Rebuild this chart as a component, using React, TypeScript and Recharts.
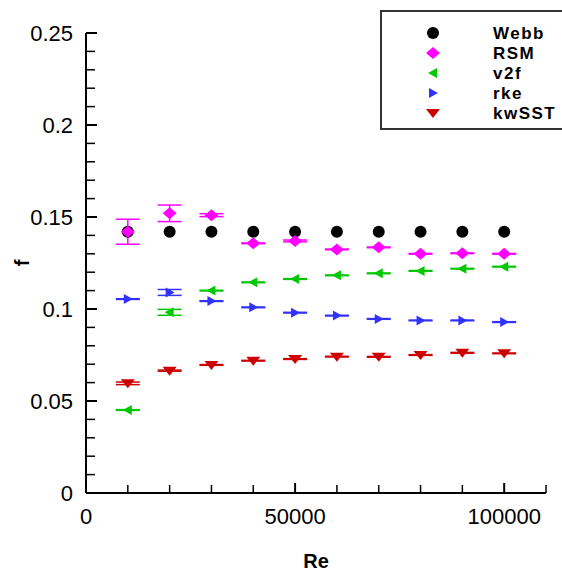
import { ScatterChart, Scatter, XAxis, YAxis, ErrorBar, Label } from "recharts";

// Reynolds numbers (x values)
const reValues = [10000, 20000, 30000, 40000, 50000, 60000, 70000, 80000, 90000, 100000];

// friction factor per model
const webbF = [0.142, 0.142, 0.142, 0.142, 0.142, 0.142, 0.142, 0.142, 0.142, 0.142];
const rsmF = [0.142, 0.152, 0.151, 0.1357, 0.137, 0.1324, 0.1335, 0.13, 0.1303, 0.13];
const rsmErr = [0.0068, 0.0045, 0.0008, 0.0002, 0.0005, 0.0002, 0.0002, 0.0002, 0.0002, 0.0002];
const v2fF = [0.0451, 0.0982, 0.11, 0.1145, 0.1163, 0.1183, 0.1194, 0.1207, 0.1219, 0.123];
const v2fErr = [0.0002, 0.0016, 0.0002, 0.0002, 0.0002, 0.0002, 0.0002, 0.0002, 0.0002, 0.0002];
const rkeF = [0.1054, 0.109, 0.1043, 0.1009, 0.098, 0.0964, 0.0946, 0.0938, 0.0938, 0.0929];
const rkeErr = [0.0002, 0.0016, 0.0002, 0.0002, 0.0002, 0.0002, 0.0002, 0.0002, 0.0002, 0.0002];
const kwsstF = [0.0596, 0.0665, 0.0696, 0.0719, 0.0728, 0.0741, 0.074, 0.075, 0.0762, 0.0759];
const kwsstErr = [0.0007, 0.0003, 0.0002, 0.0002, 0.0002, 0.0002, 0.0002, 0.0002, 0.0002, 0.0002];

const xTicks = [0, 10000, 20000, 30000, 40000, 50000, 60000, 70000, 80000, 90000, 100000, 110000];
const xLabelled = [0, 50000, 100000];
const yTicks = [0, 0.01, 0.02, 0.03, 0.04, 0.05, 0.06, 0.07, 0.08, 0.09, 0.1, 0.11, 0.12, 0.13, 0.14, 0.15, 0.16, 0.17, 0.18, 0.19, 0.2, 0.21, 0.22, 0.23, 0.24, 0.25];
const yLabels: Record<string, string> = { "0": "0", "0.05": "0.05", "0.1": "0.1", "0.15": "0.15", "0.2": "0.2", "0.25": "0.25" };

const FONT = "'Liberation Sans', Arial, Helvetica, sans-serif";

const toPoints = (ys: number[], errs?: number[]) =>
  reValues.map((x, i) => ({ x, y: ys[i], err: errs ? errs[i] : 0 }));

type MarkerKind = "circle" | "diamond" | "left" | "right" | "down";

const Marker = ({ kind, cx, cy, color }: { kind: MarkerKind; cx: number; cy: number; color: string }) => {
  switch (kind) {
    case "circle":
      return <circle cx={cx} cy={cy} r={6} fill={color} />;
    case "diamond":
      return <polygon points={`${cx},${cy - 6} ${cx + 7},${cy} ${cx},${cy + 6} ${cx - 7},${cy}`} fill={color} />;
    case "left":
      return <polygon points={`${cx - 5},${cy} ${cx + 4},${cy - 5} ${cx + 4},${cy + 5}`} fill={color} />;
    case "right":
      return <polygon points={`${cx + 5},${cy} ${cx - 4},${cy - 5} ${cx - 4},${cy + 5}`} fill={color} />;
    default:
      return <polygon points={`${cx - 7},${cy - 4} ${cx + 7},${cy - 4} ${cx},${cy + 5}`} fill={color} />;
  }
};

const series = [
  { name: "Webb", kind: "circle" as MarkerKind, color: "#000000", data: toPoints(webbF) },
  { name: "RSM", kind: "diamond" as MarkerKind, color: "#ff00ff", data: toPoints(rsmF, rsmErr) },
  { name: "v2f", kind: "left" as MarkerKind, color: "#00c800", data: toPoints(v2fF, v2fErr) },
  { name: "rke", kind: "right" as MarkerKind, color: "#3232ff", data: toPoints(rkeF, rkeErr) },
  { name: "kwSST", kind: "down" as MarkerKind, color: "#cc0000", data: toPoints(kwsstF, kwsstErr) },
];

// ticks point inward, labels only on the major ones
const YTick = (props: any) => {
  const { x, y, payload } = props;
  const label = yLabels[String(payload.value)];
  return (
    <g>
      <line x1={x} y1={y} x2={x + (label ? 11 : 9)} y2={y} stroke="#000" strokeWidth={label ? 2 : 1.5} />
      {label && (
        <text x={x - 13} y={y} textAnchor="end" dominantBaseline="central" fontSize={22} fontFamily={FONT} fill="#000">
          {label}
        </text>
      )}
    </g>
  );
};

const XTick = (props: any) => {
  const { x, y, payload } = props;
  const major = payload.value % 50000 === 0;
  const label = xLabelled.includes(payload.value);
  return (
    <g>
      <line x1={x} y1={y} x2={x} y2={y - (major ? 10 : 8)} stroke="#000" strokeWidth={major ? 2 : 1.5} />
      {label && (
        <text x={x} y={y + 23} textAnchor="middle" dominantBaseline="central" fontSize={22} fontFamily={FONT} fill="#000">
          {payload.value}
        </text>
      )}
    </g>
  );
};

const LegendBox = () => (
  <svg width={182} height={120} style={{ display: "block" }}>
    <rect x={1} y={1} width={184} height={118} fill="#fff" stroke="#333" strokeWidth={2} />
    {series.map((s, i) => (
      <g key={s.name}>
        <Marker kind={s.kind} cx={53} cy={23 + i * 20} color={s.color} />
        <text x={113} y={23 + i * 20} dominantBaseline="central" fontSize={17} fontWeight="bold" letterSpacing={1.5} fontFamily={FONT} fill="#000">
          {s.name}
        </text>
      </g>
    ))}
  </svg>
);

export default function App() {
  return (
    <div style={{ position: "absolute", left: 0, top: 0, width: 562, height: 573, background: "#fff" }}>
      <ScatterChart width={562} height={573} margin={{ top: 33, right: 16, bottom: 0, left: 0 }}>
        <XAxis
          type="number"
          dataKey="x"
          domain={[0, 110000]}
          ticks={xTicks}
          interval={0}
          height={80}
          tickSize={0}
          tickMargin={0}
          tickLine={false}
          tick={<XTick />}
          axisLine={{ stroke: "#000", strokeWidth: 2 }}
        >
          <Label
            value="Re"
            position="insideBottom"
            offset={5}
            style={{ fontSize: 20, fontWeight: "bold", fontFamily: FONT, fill: "#000" }}
          />
        </XAxis>
        <YAxis
          type="number"
          dataKey="y"
          domain={[0, 0.25]}
          ticks={yTicks}
          interval={0}
          width={86}
          tickSize={0}
          tickMargin={0}
          tickLine={false}
          tick={<YTick />}
          axisLine={{ stroke: "#000", strokeWidth: 2 }}
        >
          <Label
            content={() => (
              <text x={22} y={263} transform="rotate(-90 22 263)" textAnchor="middle" dominantBaseline="central" fontSize={20} fontWeight="bold" fontFamily={FONT} fill="#000">
                f
              </text>
            )}
          />
        </YAxis>
        {series.map((s) => (
          <Scatter
            key={s.name}
            name={s.name}
            data={s.data}
            fill={s.color}
            isAnimationActive={false}
            shape={(p: any) => <Marker kind={s.kind} cx={p.cx} cy={p.cy} color={s.color} />}
          >
            <ErrorBar dataKey="err" direction="y" width={12} stroke={s.color} strokeWidth={1.5} />
          </Scatter>
        ))}
      </ScatterChart>
      <div style={{ position: "absolute", left: 380, top: 10 }}>
        <LegendBox />
      </div>
    </div>
  );
}
